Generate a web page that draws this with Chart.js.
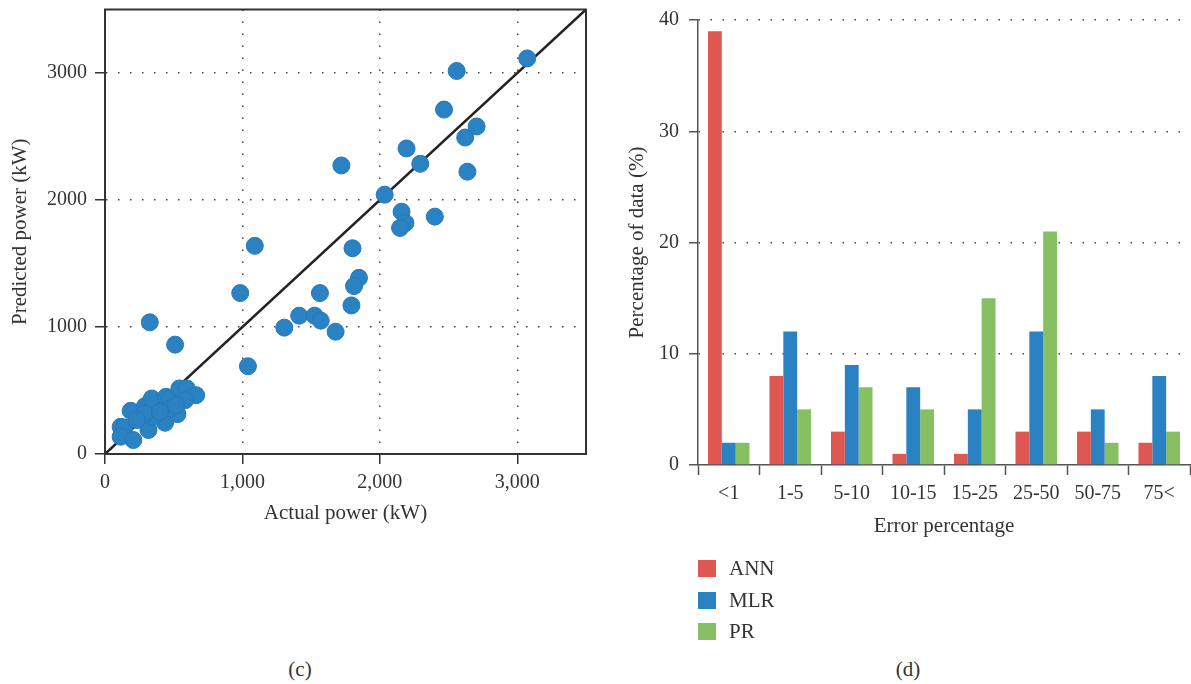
<!DOCTYPE html>
<html><head><meta charset="utf-8">
<script src="https://cdn.jsdelivr.net/npm/chart.js@4.4.1/dist/chart.umd.min.js"></script>
<style>
html,body{margin:0;padding:0;background:#fff;width:1191px;height:684px;overflow:hidden;font-family:'Liberation Serif',serif;color:#333}
#c1{position:absolute;left:0;top:0}
#c2{position:absolute;left:600px;top:0}
.cap{position:absolute;font-size:21px;transform:translate(-50%,-50%);white-space:nowrap}
#legend{position:absolute;left:698px;top:553px}
.li{display:flex;align-items:center;height:31.5px;font-size:21px}
.sw{width:18px;height:17px;margin-right:13px}
</style></head><body>
<canvas id="c1" width="600" height="540"></canvas>
<canvas id="c2" width="591" height="560"></canvas>
<div id="legend"></div>
<div class="cap" style="left:300px;top:669px">(c)</div>
<div class="cap" style="left:908px;top:669px">(d)</div>
<script>
// ---- (c) scatter data ----
const actualPower = [3072,2559,2467,2704,2621,2194,1720,2294,2637,2035,2158,2186,2147,2400,1090,1801,1848,1812,984,1564,1793,1413,1525,1570,1305,1678,326,510,1040,
  114,142,114,206,187,316,437,527,291,340,444,469,541,595,663,352,291,583,473,231,400,516];
const predictedPower = [3115,3016,2712,2579,2492,2406,2272,2285,2223,2042,1908,1819,1780,1869,1639,1620,1387,1322,1267,1267,1170,1089,1089,1050,995,963,1037,861,691,
  214,209,136,110,340,189,246,314,377,437,450,434,516,516,463,293,319,424,359,267,332,385];
const diagX = [0,3500];
const diagY = [0,3500];
const scatterTicks = [0,1000,2000,3000];
const scatterMax = 3500;

// ---- (d) bar data ----
const categories = ['<1','1-5','5-10','10-15','15-25','25-50','50-75','75<'];
const annValues = [39,8,3,1,1,3,3,2];
const mlrValues = [2,12,9,7,5,12,5,8];
const prValues  = [2,5,7,5,15,21,2,3];
const seriesNames = ['ANN','MLR','PR'];
const barTicks = [0,10,20,30,40];

Chart.defaults.font.family = "'Liberation Serif', serif";
Chart.defaults.color = '#333';

const framePlugin = {
  id:'frame',
  afterDraw(chart){
    const a = chart.chartArea, ctx = chart.ctx;
    ctx.save();
    ctx.strokeStyle = '#333'; ctx.lineWidth = 2;
    ctx.strokeRect(a.left, a.top, a.right - a.left, a.bottom - a.top);
    ctx.restore();
  }
};

const gridColor = c => (c.tick && c.tick.value === 0) ? 'rgba(0,0,0,0)' : '#444';
const setTicks = arr => (s => { s.ticks = arr.map(v => ({value:v})); });
const noPad = s => { s.paddingTop = 0; s.paddingBottom = 0; s.paddingLeft = 0; s.paddingRight = 0; };

new Chart(document.getElementById('c1'), {
  type:'scatter',
  data:{datasets:[
    {data: actualPower.map((x,i)=>({x, y: predictedPower[i]})), backgroundColor:'#2a82c2', borderColor:'#2677b6', borderWidth:1, pointRadius:8.5, pointHoverRadius:8.5, order:0},
    {type:'line', data: diagX.map((x,i)=>({x, y: diagY[i]})), borderColor:'#222', borderWidth:2.5, pointRadius:0, fill:false, order:1}
  ]},
  options:{
    responsive:false, animation:false, devicePixelRatio:1,
    layout:{padding:{left:4, top:9, right:14, bottom:10}},
    plugins:{legend:{display:false}, tooltip:{enabled:false}},
    scales:{
      x:{type:'linear', min:0, max:scatterMax,
        afterBuildTicks: setTicks(scatterTicks),
        afterFit(s){ s.height = 76; noPad(s); },
        ticks:{padding:7, font:{size:20}, color:'#333', callback:v=>Number(v).toLocaleString('en-US')},
        grid:{color:gridColor, lineWidth:1.5, borderDash:[1.5,10.5], tickLength:10, tickColor:'#333', tickWidth:1.5},
        border:{color:'#333', width:2, dash:[1.5,10.5]},
        title:{display:true, text:'Actual power (kW)', font:{size:21}, color:'#333'}
      },
      y:{type:'linear', min:0, max:scatterMax,
        afterBuildTicks: setTicks(scatterTicks),
        afterFit(s){ s.width = 101; noPad(s); },
        ticks:{padding:8, font:{size:20}, color:'#333', callback:v=>String(v)},
        grid:{color:gridColor, lineWidth:1.5, borderDash:[1.5,10.5], tickLength:10, tickColor:'#333', tickWidth:1.5},
        border:{color:'#333', width:2, dash:[1.5,10.5]},
        title:{display:true, text:'Predicted power (kW)', font:{size:21}, color:'#333'}
      }
    }
  },
  plugins:[framePlugin]
});

const barColors = ['#df5753','#2b82c2','#86c062'];
const barChart = new Chart(document.getElementById('c2'), {
  type:'bar',
  data:{labels:categories, datasets:[
    {label:seriesNames[0], data:annValues, backgroundColor:barColors[0]},
    {label:seriesNames[1], data:mlrValues, backgroundColor:barColors[1]},
    {label:seriesNames[2], data:prValues, backgroundColor:barColors[2]}
  ]},
  options:{
    responsive:false, animation:false, devicePixelRatio:1,
    layout:{padding:{left:21, top:20, right:1, bottom:17}},
    datasets:{bar:{categoryPercentage:0.675, barPercentage:1}},
    plugins:{legend:{display:false}, tooltip:{enabled:false}},
    scales:{
      x:{afterFit(s){ s.height = 78; noPad(s); },
        ticks:{padding:7, font:{size:20}, color:'#333'},
        grid:{offset:true, drawOnChartArea:false, tickLength:10, tickColor:'#555', tickWidth:1.5},
        border:{color:'#555', width:1.5},
        title:{display:true, text:'Error percentage', font:{size:21}, color:'#333'}
      },
      y:{min:0, max:40,
        afterBuildTicks: setTicks(barTicks),
        afterFit(s){ s.width = 77; noPad(s); },
        ticks:{padding:10, font:{size:20}, color:'#333'},
        grid:{color:gridColor, lineWidth:1.5, borderDash:[1.5,10.5], tickLength:9, tickColor:'#555', tickWidth:1.5},
        border:{color:'#555', width:1.5, dash:[1.5,10.5]},
        title:{display:true, text:'Percentage of data (%)', font:{size:21}, color:'#333'}
      }
    }
  }
});

const leg = document.getElementById('legend');
barChart.data.datasets.forEach(ds => {
  const row = document.createElement('div'); row.className = 'li';
  const sw = document.createElement('div'); sw.className = 'sw'; sw.style.background = ds.backgroundColor;
  const tx = document.createElement('span'); tx.textContent = ds.label;
  row.appendChild(sw); row.appendChild(tx); leg.appendChild(row);
});
</script>
</body></html>
